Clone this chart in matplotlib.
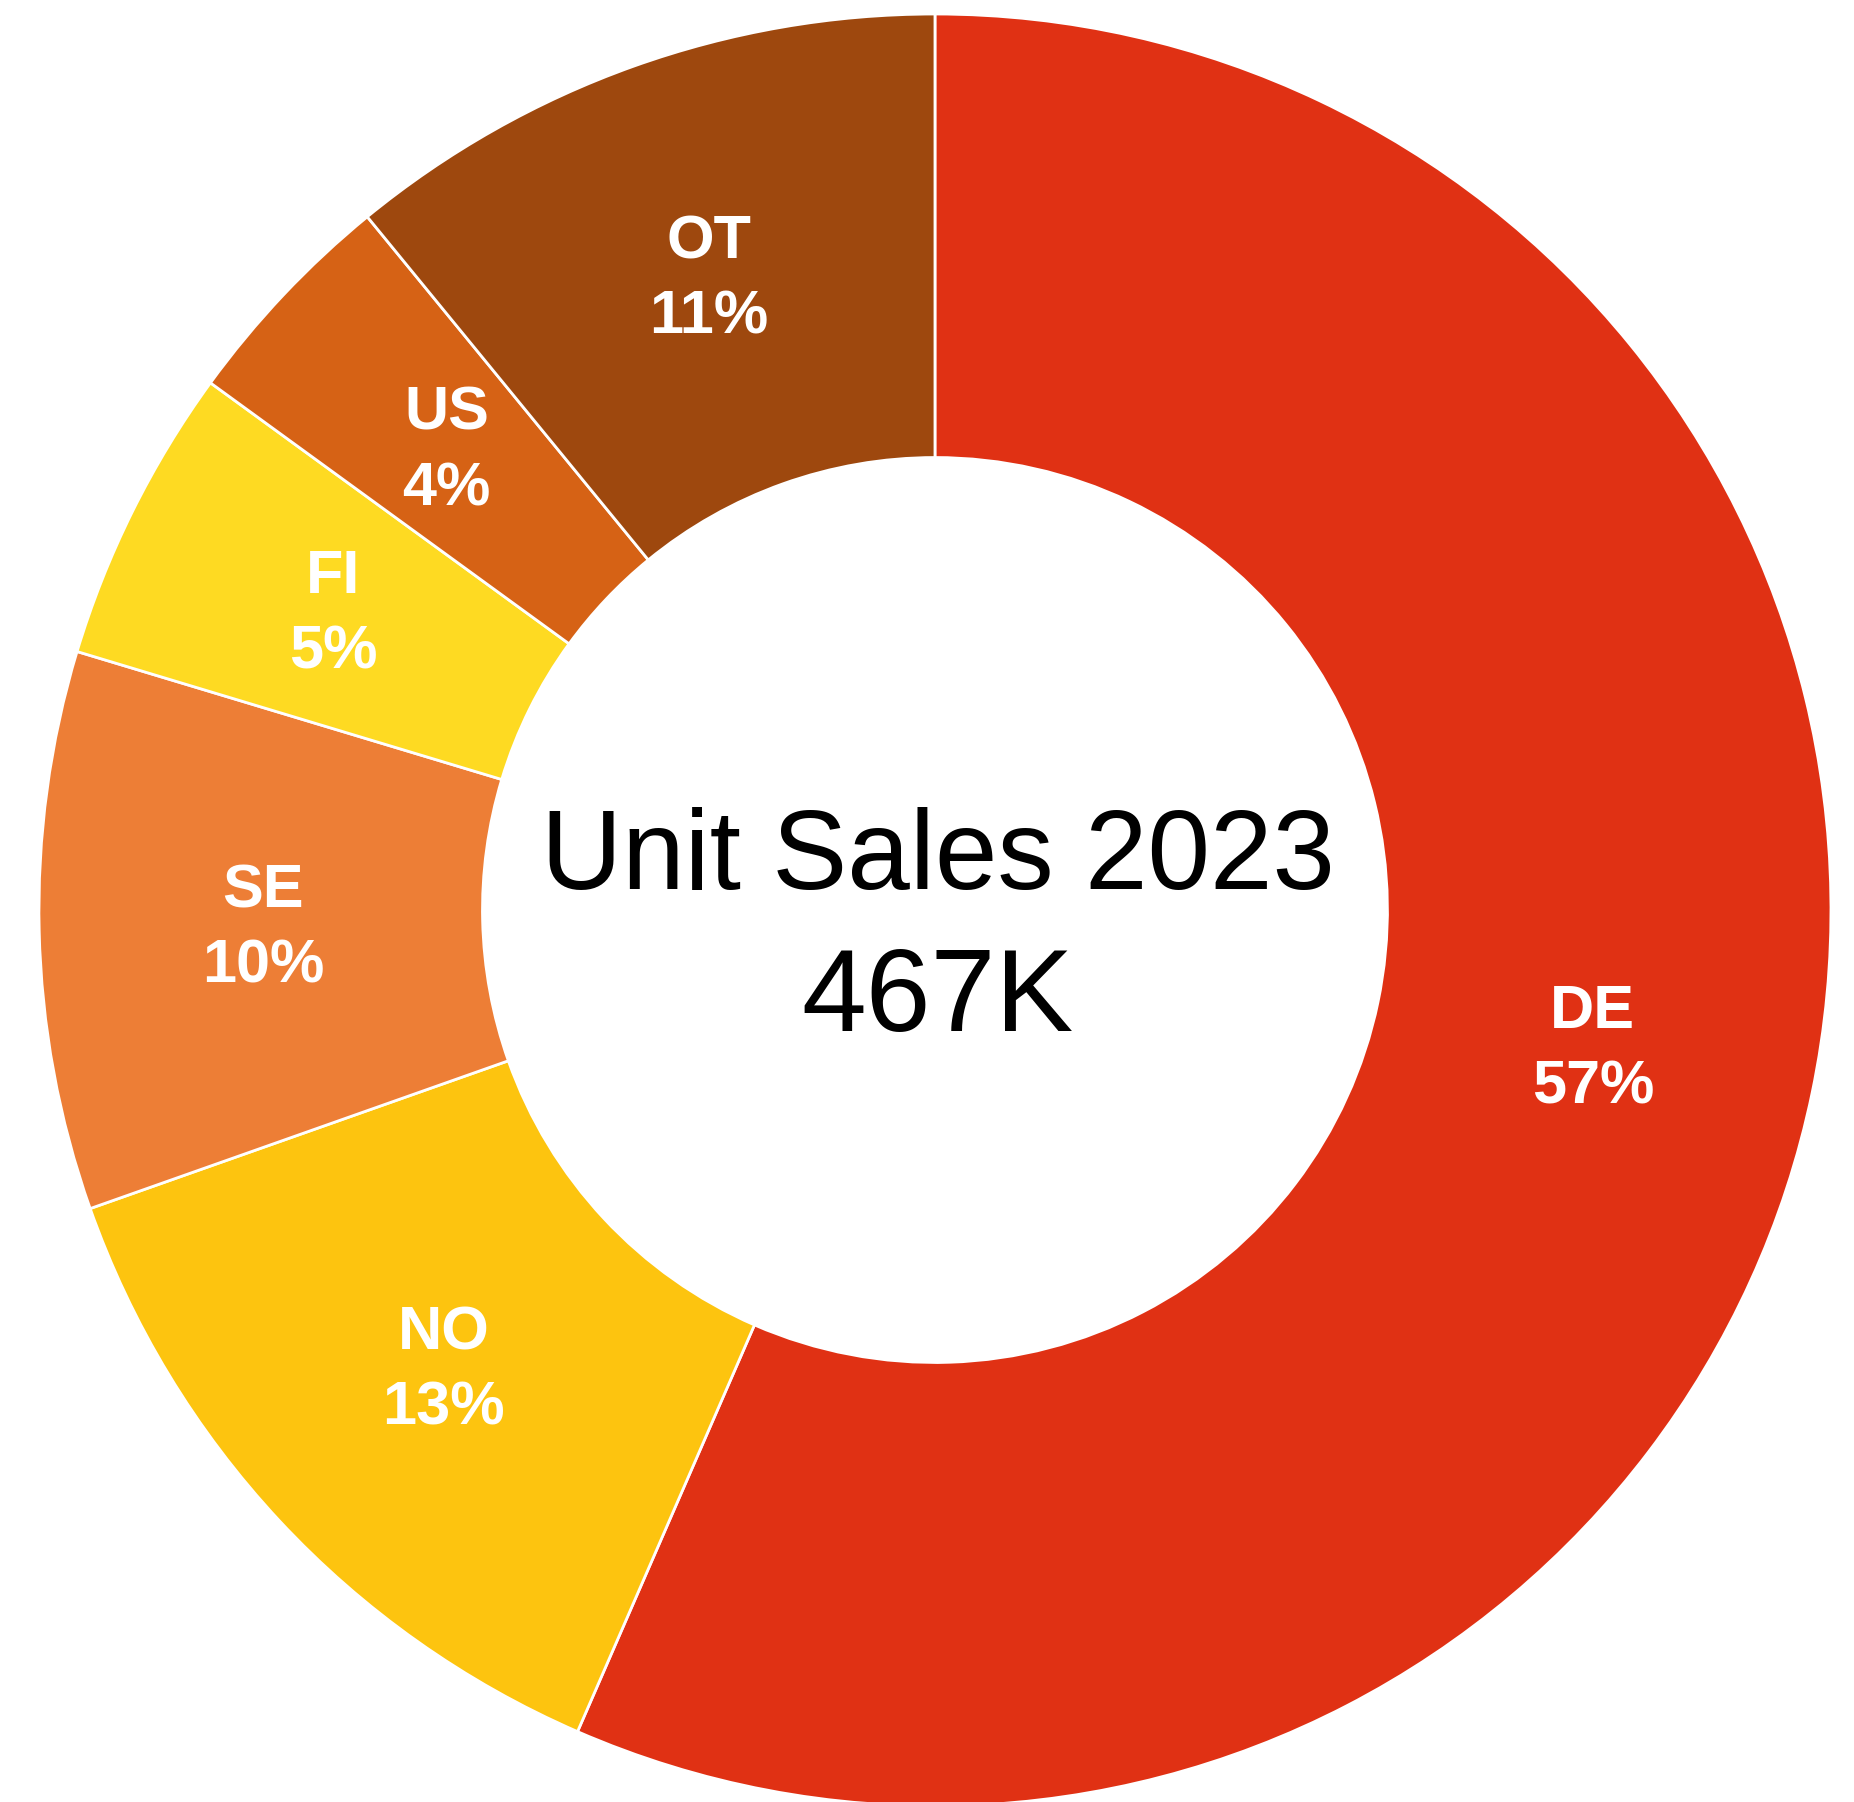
"""Donut chart of unit sales by country, 2023."""

import matplotlib.pyplot as plt
import numpy as np

plt.rcParams["font.family"] = ["Liberation Sans", "DejaVu Sans"]

# Unit sales in thousands (total 467K)
countries = ["DE", "NO", "SE", "FI", "US", "OT"]
units_k = [264, 61, 47, 25, 19, 51]
colors = ["#E03114", "#FDC40F", "#ED7E36", "#FEDA22", "#D66215", "#9E480E"]
title_text = "Unit Sales 2023"
total_text = "467K"


def main() -> None:
    fig = plt.figure(figsize=(18.54, 18.02), dpi=100, facecolor="white")
    ax = fig.add_axes([0, 0, 1, 1])

    wedges, _ = ax.pie(
        units_k,
        colors=colors,
        startangle=90,
        counterclock=False,
        radius=1.0,
        wedgeprops=dict(width=0.495, edgecolor="white", linewidth=2),
    )

    total = sum(units_k)
    for w, name, val in zip(wedges, countries, units_k):
        mid = np.deg2rad((w.theta1 + w.theta2) / 2)
        r = 0.75
        ax.text(
            r * np.cos(mid),
            r * np.sin(mid) - 0.004,
            f"{name}\n{val / total:.0%}",
            ha="center",
            va="center",
            fontsize=44,
            fontweight="bold",
            color="white",
            linespacing=1.42,
        )

    ax.text(0.003, 0.023, title_text, ha="center", va="baseline", fontsize=81, color="black")
    ax.text(0.003, -0.135, total_text, ha="center", va="baseline", fontsize=84, color="black")

    # place the donut centre where it sits in the original layout
    ax.set_xlim(-1.0435, 1.0257)
    ax.set_ylim(-0.9955, 1.0156)
    ax.set_aspect("equal")
    ax.axis("off")

    fig.savefig("out.png", dpi=100, facecolor=fig.get_facecolor())
    plt.close(fig)


if __name__ == "__main__":
    main()
